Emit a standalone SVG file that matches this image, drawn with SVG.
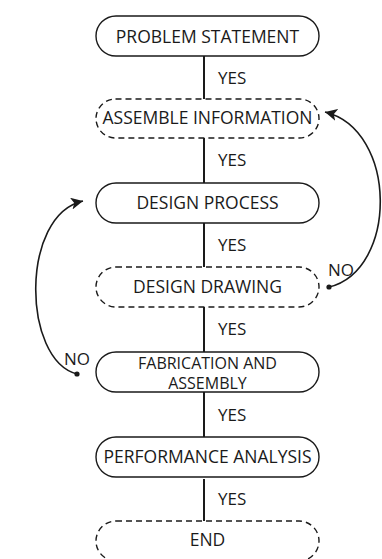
<svg xmlns="http://www.w3.org/2000/svg" width="382" height="559" viewBox="0 0 382 559">
  <defs>
    <marker id="arrow" markerUnits="userSpaceOnUse" markerWidth="14" markerHeight="12" refX="12" refY="6" orient="auto">
      <path d="M0,0 L12,6 L0,12 L3,6 Z" fill="#1a1a1a"/>
    </marker>
    <style>
      .box { fill: #ffffff; stroke: #1a1a1a; stroke-width: 1.4; }
      .dash { stroke-dasharray: 6 4; }
      .label { font-family: "Open Sans", "DejaVu Sans", sans-serif; font-size: 17.5px; fill: #1a1a1a; text-anchor: middle; }
      .small { font-size: 16px; }
      .tag { font-family: "Open Sans", "DejaVu Sans", sans-serif; font-size: 17px; fill: #1a1a1a; }
      .link { stroke: #1a1a1a; stroke-width: 2; fill: none; }
      .loop { stroke: #1a1a1a; stroke-width: 1.6; fill: none; marker-end: url(#arrow); }
      .dot { fill: #1a1a1a; }
    </style>
  </defs>

  <rect width="382" height="559" fill="#ffffff"/>

  <!-- vertical YES links and the two NO loops -->
  <g id="connectors">
    <line class="link" x1="204" y1="56" x2="204" y2="99"/>
    <line class="link" x1="204" y1="138" x2="204" y2="183"/>
    <line class="link" x1="204" y1="223" x2="204" y2="267"/>
    <line class="link" x1="204" y1="307" x2="204" y2="352"/>
    <line class="link" x1="204" y1="392" x2="204" y2="437"/>
    <line class="link" x1="204" y1="479" x2="204" y2="523"/>
    <text class="tag" x="218" y="84">YES</text>
    <text class="tag" x="218" y="166">YES</text>
    <text class="tag" x="218" y="251">YES</text>
    <text class="tag" x="218" y="335">YES</text>
    <text class="tag" x="218" y="421">YES</text>
    <text class="tag" x="218" y="505">YES</text>

    <!-- drawing rejected: back to assemble information -->
    <path class="loop" d="M329,287 C398,270 398,130 325,112"/>
    <circle class="dot" cx="329" cy="287" r="2.6"/>
    <text class="tag" x="328" y="276">NO</text>

    <!-- fabrication rejected: back to design process -->
    <path class="loop" d="M77,374 C22,360 20,215 83,201"/>
    <circle class="dot" cx="77" cy="374" r="2.6"/>
    <text class="tag" x="64" y="365">NO</text>
  </g>

  <g id="problem-statement">
    <rect class="box" x="96" y="16" width="223" height="40" rx="20"/>
    <text class="label" x="207.5" y="43">PROBLEM STATEMENT</text>
  </g>

  <g id="assemble-information">
    <rect class="box dash" x="96" y="99" width="223" height="39" rx="19.5"/>
    <text class="label" x="207.5" y="124">ASSEMBLE INFORMATION</text>
  </g>

  <g id="design-process">
    <rect class="box" x="96" y="183" width="223" height="40" rx="20"/>
    <text class="label" x="207.5" y="209">DESIGN PROCESS</text>
  </g>

  <g id="design-drawing">
    <rect class="box dash" x="96" y="267" width="223" height="40" rx="20"/>
    <text class="label" x="207.5" y="293">DESIGN DRAWING</text>
  </g>

  <g id="fabrication-assembly">
    <rect class="box" x="96" y="352" width="223" height="40" rx="20"/>
    <text class="label small" x="207.5" y="369">FABRICATION AND</text>
    <text class="label small" x="207.5" y="389">ASSEMBLY</text>
  </g>

  <g id="performance-analysis">
    <rect class="box" x="96" y="437" width="223" height="40" rx="20"/>
    <text class="label" x="207.5" y="463">PERFORMANCE ANALYSIS</text>
  </g>

  <g id="end">
    <rect class="box dash" x="96" y="521" width="223" height="40" rx="20"/>
    <text class="label" x="207.5" y="546">END</text>
  </g>
</svg>
